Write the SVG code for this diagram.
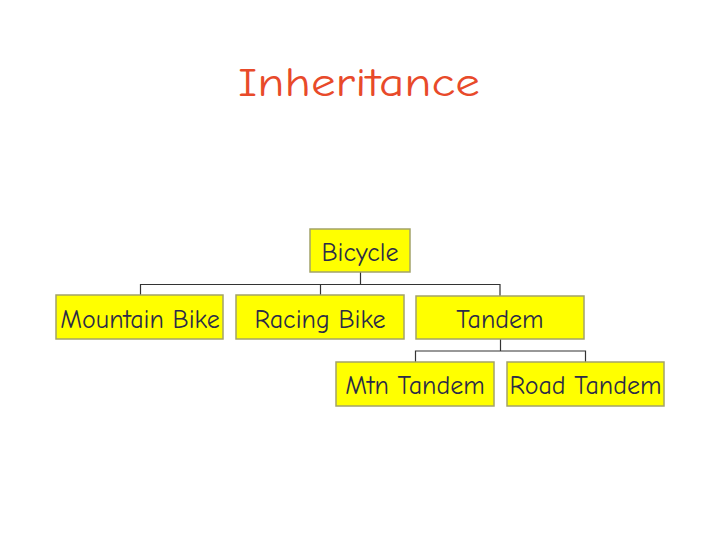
<svg xmlns="http://www.w3.org/2000/svg" width="720" height="540" viewBox="0 0 720 540">
<style>
.box{fill:#ffff00;stroke:#a3a36a;stroke-width:1.5}
.lbl{font-family:"Comic Sans MS","Comic Neue","DejaVu Sans",sans-serif;font-size:26px;fill:#2b2b48;text-anchor:middle}
.title{font-family:"Comic Sans MS","Comic Neue","DejaVu Sans",sans-serif;font-size:40px;fill:#e84a2a;text-anchor:middle}
.conn{fill:none;stroke:#333333;stroke-width:1.2}
</style>
<rect width="720" height="540" fill="#ffffff"/>
<text class="title" x="359" y="96" textLength="242" lengthAdjust="spacingAndGlyphs">Inheritance</text>
<g id="connectors">
<path class="conn" d="M360.5 272 V284.5 M140.5 295 V284.5 H500 V296 M320.5 284.5 V295"/>
<path class="conn" d="M500.5 339 V351 M415.5 362 V351 H585.5 V362"/>
</g>
<g id="bicycle"><rect class="box" x="310" y="229" width="100" height="43"/><text class="lbl" x="360" y="261">Bicycle</text></g>
<g id="mountain-bike"><rect class="box" x="56" y="295" width="167" height="44"/><text class="lbl" x="140" y="328">Mountain Bike</text></g>
<g id="racing-bike"><rect class="box" x="236" y="295" width="168" height="44"/><text class="lbl" x="320" y="328">Racing Bike</text></g>
<g id="tandem"><rect class="box" x="416" y="296" width="168" height="43"/><text class="lbl" x="500" y="328">Tandem</text></g>
<g id="mtn-tandem"><rect class="box" x="336" y="362" width="158" height="44"/><text class="lbl" x="415" y="394">Mtn Tandem</text></g>
<g id="road-tandem"><rect class="box" x="507" y="362" width="157" height="44"/><text class="lbl" x="585.5" y="394">Road Tandem</text></g>
</svg>
